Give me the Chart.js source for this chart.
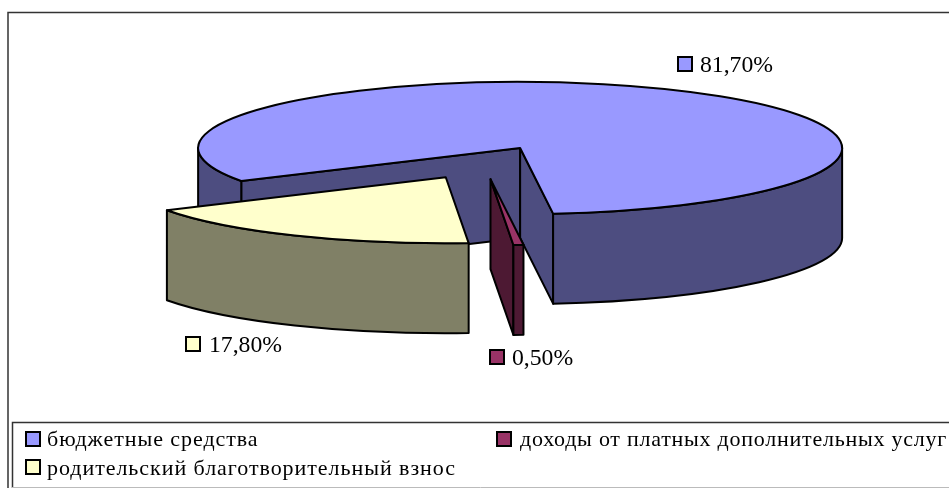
<!DOCTYPE html>
<html lang="ru">
<head>
<meta charset="utf-8">
<style>
html,body{margin:0;padding:0;background:#fff;overflow:hidden}
canvas{display:block}
</style>
<script src="https://cdn.jsdelivr.net/npm/chart.js@4"></script>
</head>
<body>
<canvas id="c" width="949" height="488"></canvas>
<script>
const categories = ['бюджетные средства', 'доходы от платных дополнительных услуг', 'родительский благотворительный взнос'];
const shares = [81.7, 0.5, 17.8];
const shareLabels = ['81,70%', '0,50%', '17,80%'];
const topColors = ['#9999FF', '#993366', '#FFFFCC'];
const wallColors = ['#4D4D80', '#4D1933', '#808066'];

const PIE = {cx: 483.5, cy: 162.7, rx: 322, ry: 66, depth: 90, explode: 0.25};
const LABEL_POS = [{sx: 678, sy: 57, tx: 700, ty: 72}, {sx: 490, sy: 350, tx: 512, ty: 365}, {sx: 186, sy: 337, tx: 209, ty: 352}];
const LEGEND_POS = [{sx: 26, sy: 432, tx: 47, ty: 446, ls: '0.95px'}, {sx: 497, sy: 432, tx: 520, ty: 446, ls: '0.75px'}, {sx: 26, sy: 460, tx: 47, ty: 475, ls: '0.95px'}];

function swatch(ctx, x, y, s, color) {
  ctx.fillStyle = color;
  ctx.strokeStyle = '#000';
  ctx.lineWidth = 2;
  ctx.fillRect(x, y, s, s);
  ctx.strokeRect(x, y, s, s);
}

const pie3d = {
  id: 'pie3d',
  beforeDatasetsDraw(chart) {
    const ctx = chart.ctx;
    const arcs = chart.getDatasetMeta(0).data;

    // frame
    ctx.save();
    ctx.fillStyle = '#fff';
    ctx.fillRect(0, 0, 949, 488);
    ctx.strokeStyle = '#333';
    ctx.lineWidth = 1.5;
    ctx.beginPath();
    ctx.moveTo(8, 488); ctx.lineTo(8, 12.5); ctx.lineTo(949, 12.5);
    ctx.moveTo(949, 422.5); ctx.lineTo(12.5, 422.5); ctx.lineTo(12.5, 488);
    ctx.stroke();
    ctx.strokeStyle = '#bbb';
    ctx.lineWidth = 1;
    ctx.beginPath();
    ctx.moveTo(12, 487.5); ctx.lineTo(949, 487.5);
    ctx.stroke();
    ctx.restore();

    arcs.forEach((el, i) => {
      const {x, y, startAngle, endAngle, outerRadius} = el.getProps(['x', 'y', 'startAngle', 'endAngle', 'outerRadius'], true);
      const mid = (startAngle + endAngle) / 2;
      const cx = PIE.cx + PIE.explode * PIE.rx * Math.cos(mid);
      const cy = PIE.cy + PIE.explode * PIE.ry * Math.sin(mid);
      const d = PIE.depth;
      const px = a => cx + PIE.rx * Math.cos(a);
      const py = a => cy + PIE.ry * Math.sin(a);

      ctx.save();
      ctx.lineJoin = 'round';
      ctx.strokeStyle = '#000';
      ctx.lineWidth = 2;
      ctx.fillStyle = wallColors[i];

      // radial inner walls that face the viewer
      const radial = i === 0 ? [startAngle, endAngle] : i === 1 ? [endAngle] : [];
      radial.forEach(a => {
        ctx.beginPath();
        ctx.moveTo(cx, cy);
        ctx.lineTo(px(a), py(a));
        ctx.lineTo(px(a), py(a) + d);
        ctx.lineTo(cx, cy + d);
        ctx.closePath();
        ctx.fill();
        ctx.stroke();
      });

      // outer wall, front-facing parts
      const TAU = Math.PI * 2;
      [[0, Math.PI], [TAU, TAU + Math.PI]].forEach(([lo, hi]) => {
        const a = Math.max(startAngle, lo), b = Math.min(endAngle, hi);
        if (b <= a) return;
        ctx.beginPath();
        ctx.ellipse(cx, cy, PIE.rx, PIE.ry, 0, a, b);
        ctx.ellipse(cx, cy + d, PIE.rx, PIE.ry, 0, b, a, true);
        ctx.closePath();
        ctx.fill();
        ctx.stroke();
      });

      // top face, drawn by the library's arc element
      ctx.save();
      ctx.translate(cx, cy);
      ctx.scale(PIE.rx / outerRadius, PIE.ry / outerRadius);
      ctx.translate(-x, -y);
      el.draw(ctx);
      ctx.restore();

      ctx.beginPath();
      ctx.moveTo(cx, cy);
      ctx.ellipse(cx, cy, PIE.rx, PIE.ry, 0, startAngle, endAngle);
      ctx.closePath();
      ctx.stroke();
      ctx.restore();
    });

    // value labels
    ctx.save();
    ctx.textBaseline = 'alphabetic';
    ctx.textAlign = 'left';
    shareLabels.forEach((t, i) => {
      const p = LABEL_POS[i];
      swatch(ctx, p.sx, p.sy, 14, topColors[i]);
      ctx.fillStyle = '#000';
      ctx.font = '23.7px "Liberation Serif"';
      ctx.fillText(t, p.tx, p.ty);
    });
    // legend
    categories.forEach((t, i) => {
      const p = LEGEND_POS[i];
      swatch(ctx, p.sx, p.sy, 14, topColors[i]);
      ctx.fillStyle = '#000';
      ctx.font = '22px "Liberation Serif"';
      ctx.letterSpacing = p.ls;
      ctx.fillText(t, p.tx, p.ty);
      ctx.letterSpacing = '0px';
    });
    ctx.restore();
    return false;
  }
};

new Chart(document.getElementById('c'), {
  type: 'pie',
  data: {
    labels: categories,
    datasets: [{data: shares, backgroundColor: topColors, borderWidth: 0}]
  },
  options: {
    responsive: false,
    animation: false,
    rotation: 240,
    layout: {padding: 0},
    plugins: {legend: {display: false}, tooltip: {enabled: false}}
  },
  plugins: [pie3d]
});
</script>
</body>
</html>
